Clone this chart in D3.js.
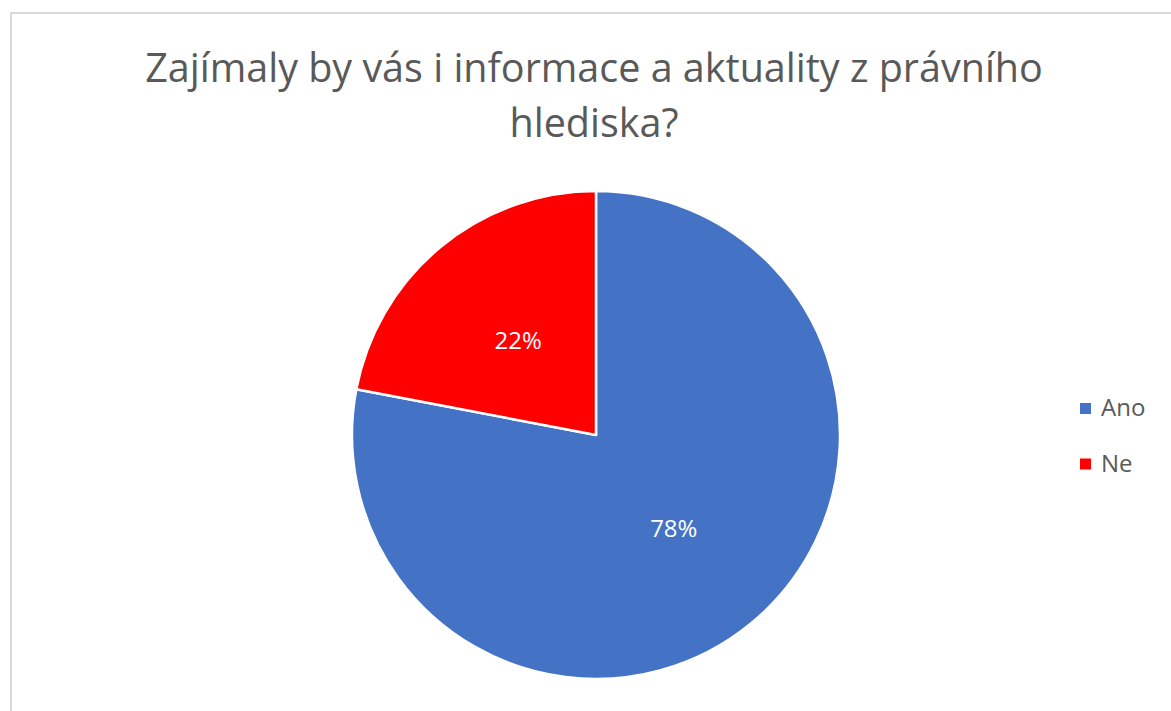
<!DOCTYPE html>
<html>
<head>
<meta charset="utf-8">
<script src="https://cdn.jsdelivr.net/npm/d3@7"></script>
<style>
  html, body { margin: 0; padding: 0; background: #fff; }
  svg { display: block; font-family: "Open Sans", "Noto Sans", sans-serif; }
</style>
</head>
<body>
<svg id="chart" width="1171" height="711"></svg>
<script>
// Survey answers and their shares (percent)
const categories = ["Ano", "Ne"];
const values = [78, 22];
const colors = ["#4472C4", "#FF0000"];
const titleLines = ["Zajímaly by vás i informace a aktuality z právního", "hlediska?"];

const svg = d3.select("#chart");

// Chart frame
svg.append("rect")
  .attr("x", 11).attr("y", 13)
  .attr("width", 1200).attr("height", 800)
  .attr("fill", "#fff")
  .attr("stroke", "#d9d9d9")
  .attr("stroke-width", 2);

// Title
const title = svg.append("text")
  .attr("text-anchor", "middle")
  .attr("fill", "#595959")
  .attr("font-size", 39.5);
titleLines.forEach((line, i) => {
  title.append("tspan")
    .attr("x", 594)
    .attr("y", 82 + i * 55)
    .text(line);
});

// Pie
const cx = 596, cy = 435, radius = 244;
const color = d3.scaleOrdinal().domain(categories).range(colors);
const pie = d3.pie().sort(null).value(d => d.value);
const arcs = pie(categories.map((c, i) => ({ name: c, value: values[i] })));
const arc = d3.arc().innerRadius(0).outerRadius(radius);

const g = svg.append("g").attr("transform", `translate(${cx},${cy})`);
g.selectAll("path.slice")
  .data(arcs)
  .join("path")
  .attr("class", "slice")
  .attr("d", arc)
  .attr("fill", d => color(d.data.name))
  .attr("stroke", "#fff")
  .attr("stroke-width", 2.5)
  .attr("stroke-linejoin", "round");

g.selectAll("text.label")
  .data(arcs)
  .join("text")
  .attr("class", "label")
  .attr("transform", d => `translate(${arc.centroid(d)})`)
  .attr("text-anchor", "middle")
  .attr("dy", "0.35em")
  .attr("fill", "#fff")
  .attr("font-size", 24)
  .text(d => d.data.value + "%");

// Legend
const legend = svg.append("g").attr("transform", "translate(1080,408.5)");
const item = legend.selectAll("g")
  .data(categories)
  .join("g")
  .attr("transform", (d, i) => `translate(0,${i * 55.5})`);
item.append("rect")
  .attr("x", 0).attr("y", -5.5)
  .attr("width", 11).attr("height", 11)
  .attr("fill", d => color(d));
item.append("text")
  .attr("x", 21)
  .attr("y", 7.5)
  .attr("fill", "#595959")
  .attr("font-size", 24)
  .text(d => d);
</script>
</body>
</html>
